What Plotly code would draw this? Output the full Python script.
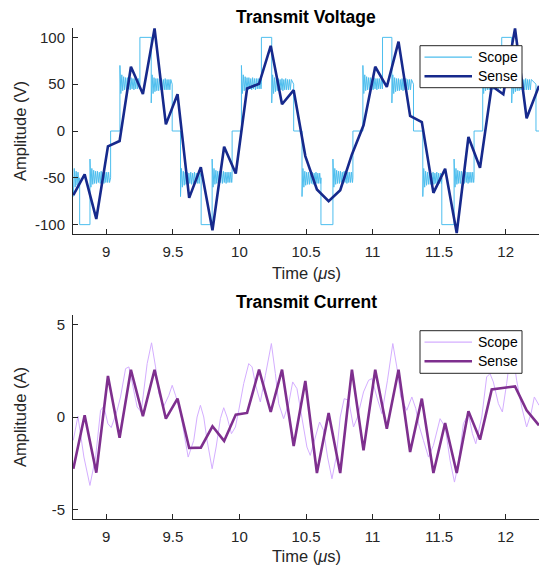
import plotly.graph_objects as go

# ---------------- data ----------------
# sampled "Sense" times (us)
t_sense = [8.7525, 8.8375, 8.925, 9.0125, 9.1, 9.185, 9.275, 9.3625, 9.4475, 9.535,
           9.6225, 9.71, 9.7975, 9.885, 9.9725, 10.0575, 10.1475, 10.235, 10.32, 10.4075,
           10.495, 10.582, 10.67, 10.757, 10.845, 10.932, 11.02, 11.107, 11.195, 11.282,
           11.37, 11.457, 11.545, 11.632, 11.72, 11.807, 11.895, 11.982, 12.07, 12.157, 12.25]
v_sense = [-68.6, -46.4, -93.9, -16.4, -10.7, 68.6, 39.6, 109.6, 7.1, 39.3,
           -71.4, -38.6, -106.0, -16.8, -45.4, 45.4, 50.4, 91.0, 28.6, 43.6,
           -26.8, -62.5, -75.0, -63.2, -25.0, 6.1, 68.6, 47.1, 95.4, 16.1,
           9.6, -66.1, -40.4, -108.9, -6.4, -39.3, 48.2, 39.3, 109.6, 13.6, 48.2]
i_sense = [-2.79, 0.09, -3.0, 2.21, -1.12, 2.55, 0.05, 2.55, -0.09, 0.99,
           -1.67, -1.65, -0.5, -1.29, 0.13, 0.22, 2.55, 0.27, 2.55, -1.56,
           1.94, -3.02, 0.22, -3.02, 2.55, -1.8, 2.55, -0.63, 2.55, -1.89,
           0.99, -3.02, -0.32, -3.02, 0.31, -1.22, 1.49, 1.56, 1.65, 0.36, -0.45]

# "Scope" voltage: staircase level changes (us) and levels (V)
vs_edges = [8.7525, 8.80, 8.8775, 9.0325, 9.1025, 9.2525, 9.3375, 9.495, 9.5575, 9.7125,
            9.795, 9.945, 10.015, 10.165, 10.2425, 10.4075, 10.47, 10.6123, 10.7023, 10.8523,
            10.9273, 11.0748, 11.145, 11.3073, 11.3773, 11.52, 11.6123, 11.7623, 11.8273, 11.97,
            12.045, 12.2273]
vs_levels = [-50, -100, -50, 0, 50, 100, 50, 0, -50, -100,
             -50, 0, 50, 100, 50, 0, -50, -100, -50, 0,
             50, 100, 50, 0, -50, -100, -50, 0, 50, 100,
             50, 0]
vs_end = 12.25
# ringing seen on the +/-50 V steps (V, in the step's direction)
ring_offsets = [20, -10, 10, -7, 8, -6, 7, -6, 7, -5, 6, -6, 7, -5, 6, -6, 6, -5,
                6, -5, 6, -5]
ring_dt = 0.007

# "Scope" current trace (us, A)
t_scope_i = [8.752, 8.787, 8.832, 8.877, 8.92, 8.957, 8.982, 9.012, 9.037, 9.082,
             9.107, 9.145, 9.17, 9.195, 9.232, 9.262, 9.307, 9.34, 9.37, 9.395,
             9.432, 9.47, 9.495, 9.52, 9.557, 9.595, 9.615, 9.657, 9.682, 9.707,
             9.732, 9.757, 9.795, 9.825, 9.857, 9.882, 9.907, 9.94, 9.97, 9.995,
             10.032, 10.07, 10.095, 10.125, 10.157, 10.195, 10.24, 10.27, 10.295, 10.332,
             10.37, 10.4, 10.432, 10.46, 10.482, 10.507, 10.532, 10.57, 10.602, 10.632,
             10.662, 10.695, 10.727, 10.757, 10.787, 10.82, 10.857, 10.887, 10.932, 10.97,
             10.995, 11.032, 11.07, 11.112, 11.152, 11.182, 11.212, 11.257, 11.295, 11.325,
             11.345, 11.382, 11.42, 11.457, 11.507, 11.545, 11.582, 11.615, 11.645, 11.682,
             11.72, 11.75, 11.775, 11.82, 11.857, 11.882, 11.907, 11.945, 11.975, 12.007,
             12.045, 12.082, 12.12, 12.157, 12.19, 12.215, 12.25]
i_scope = [-1.26, 0.04, -2.16, -3.69, -2.16, 0.36, 0.58, -0.36, -0.57, 0.36,
           1.08, 2.61, 2.70, 1.80, 0.54, 0.27, 2.88, 4.0, 2.70, 1.26,
           0.58, 1.17, 1.71, 1.17, 0.27, -1.35, -2.16, -1.26, 0.0, 0.63,
           0.0, -1.26, -2.79, -1.62, -0.09, 0.5, 0.0, -0.9, -0.54, 0.36,
           1.8, 2.88, 2.7, 1.62, 0.81, 2.25, 3.96, 2.34, 0.72, -0.09,
           0.72, 1.89, 1.53, 0.36, -0.54, -1.62, -2.07, -1.08, -0.27, -0.72,
           -2.16, -3.33, -2.16, 0.0, 0.99, 0.9, -0.54, 0.0, 1.35, 1.98,
           2.07, 1.08, 0.18, 1.98, 3.96, 2.70, 1.08, 0.36, 1.08, 0.45,
           -0.36, -1.26, -2.16, -1.53, -0.09, -0.54, -2.34, -3.51, -2.52, -0.36,
           0.18, -0.9, -1.44, 0.0, 2.16, 2.34, 1.89, 0.72, 0.27, 1.80,
           3.9, 1.98, 0.54, -0.54, 0.18, 1.08, 0.63]

x_ticks = [9, 9.5, 10, 10.5, 11, 11.5, 12]
x_ticktext = ["9", "9.5", "10", "10.5", "11", "11.5", "12"]
v_ticks = [-100, -50, 0, 50, 100]
v_ticktext = ["-100", "-50", "0", "50", "100"]
i_ticks = [-5, 0, 5]
i_ticktext = ["-5", "0", "5"]
legend_names = ["Scope", "Sense"]

# ---------------- build scope voltage trace from the staircase ----------------
t_scope_v, v_scope = [], []
bounds = vs_edges + [vs_end]
for k, lvl in enumerate(vs_levels):
    t0, t1 = bounds[k], bounds[k + 1]
    prev = vs_levels[k - 1] if k > 0 else 0
    if abs(lvl) == 50:
        sgn = 1 if lvl > prev else -1
        for j, off in enumerate(ring_offsets):
            tj = t0 + j * ring_dt
            if tj >= t1:
                break
            t_scope_v.append(tj)
            v_scope.append(lvl + sgn * off)
    else:
        t_scope_v.append(t0)
        v_scope.append(lvl)
    t_scope_v.append(t1)
    v_scope.append(lvl)

# ---------------- figure ----------------
C_SCOPE_V = "#4DBEEE"
C_SENSE_V = "#16298C"
C_SCOPE_I = "#D4AEFF"
C_SENSE_I = "#7E2F8E"
AX = "#262626"
FONT = "Liberation Sans, Arial, Helvetica, sans-serif"
SENSE_W = 2.6

fig = go.Figure()
fig.add_trace(go.Scatter(x=t_scope_v, y=v_scope, mode="lines", name=legend_names[0],
                         line=dict(color=C_SCOPE_V, width=1, simplify=False),
                         xaxis="x", yaxis="y"))
fig.add_trace(go.Scatter(x=t_sense, y=v_sense, mode="lines", name=legend_names[1],
                         line=dict(color=C_SENSE_V, width=SENSE_W, simplify=False),
                         xaxis="x", yaxis="y"))
fig.add_trace(go.Scatter(x=t_scope_i, y=i_scope, mode="lines", name=legend_names[0],
                         line=dict(color=C_SCOPE_I, width=1), xaxis="x2", yaxis="y2"))
fig.add_trace(go.Scatter(x=t_sense, y=i_sense, mode="lines", name=legend_names[1],
                         line=dict(color=C_SENSE_I, width=SENSE_W), xaxis="x2", yaxis="y2"))

L, R, T, B = 73, 3, 28, 52
W, H = 542, 571
ph = H - T - B

def py(Y):
    return (H - B - Y) / ph

def px(X):
    return (X - L) / (W - L - R)

axis_common = dict(showline=True, linecolor=AX, linewidth=1, ticks="inside", ticklen=5,
                   tickcolor=AX, tickwidth=1, showgrid=False, zeroline=False,
                   tickfont=dict(family=FONT, size=15, color=AX), mirror=False)

fig.update_layout(
    width=W, height=H, margin=dict(l=L, r=R, t=T, b=B),
    paper_bgcolor="white", plot_bgcolor="white",
    font=dict(family=FONT, color=AX),
    showlegend=False,
    xaxis=dict(domain=[0, 1], range=[8.75, 12.25], tickvals=x_ticks, ticktext=x_ticktext,
               anchor="y", ticklabelstandoff=4, **axis_common),
    yaxis=dict(domain=[py(234), 1], range=[-110, 110], tickvals=v_ticks, ticktext=v_ticktext,
               anchor="x", ticklabelstandoff=4, **axis_common),
    xaxis2=dict(domain=[0, 1], range=[8.75, 12.25], tickvals=x_ticks, ticktext=x_ticktext,
                anchor="y2", ticklabelstandoff=4, **axis_common),
    yaxis2=dict(domain=[0, py(315)], range=[-5.5, 5.5], tickvals=i_ticks, ticktext=i_ticktext,
                anchor="x2", ticklabelstandoff=4, **axis_common),
)

ann = []
shapes = []

def add_text(text, X, Y, size, bold=False, angle=0, xanchor="center", color=None):
    ann.append(dict(text=("<b>%s</b>" % text) if bold else text, x=px(X), y=py(Y),
                    xref="paper", yref="paper", xanchor=xanchor, yanchor="middle",
                    showarrow=False, textangle=angle,
                    font=dict(family=FONT, size=size,
                              color=color or ("black" if bold else AX))))

add_text("Transmit Voltage", 306, 17, 17.5, bold=True)
add_text("Transmit Current", 306, 302, 17.5, bold=True)
add_text("Time (<i>μ</i>s)", 306, 273, 16.5)
add_text("Time (<i>μ</i>s)", 306, 556, 16.5)
add_text("Amplitude (V)", 20, 131, 16.5, angle=-90)
add_text("Amplitude (A)", 20, 417, 16.5, angle=-90)

# legend boxes (drawn like MATLAB's legend)
def add_legend(top, bottom, colors, widths):
    shapes.append(dict(type="rect", xref="paper", yref="paper",
                       x0=px(420), x1=px(522), y0=py(bottom), y1=py(top),
                       line=dict(color=AX, width=1), fillcolor="white", layer="above"))
    rows = [top + 11.5, top + 30.5]
    for name, c, w, yy in zip(legend_names, colors, widths, rows):
        shapes.append(dict(type="line", xref="paper", yref="paper",
                           x0=px(424.5), x1=px(472), y0=py(yy), y1=py(yy),
                           line=dict(color=c, width=w), layer="above"))
        add_text(name, 475.5, yy, 14, xanchor="left", color="black")

add_legend(45.7, 87.7, [C_SCOPE_V, C_SENSE_V], [1.3, SENSE_W])
add_legend(330.7, 373.3, [C_SCOPE_I, C_SENSE_I], [1.3, SENSE_W])

fig.update_layout(annotations=ann, shapes=shapes)
fig.write_html("out.html")
